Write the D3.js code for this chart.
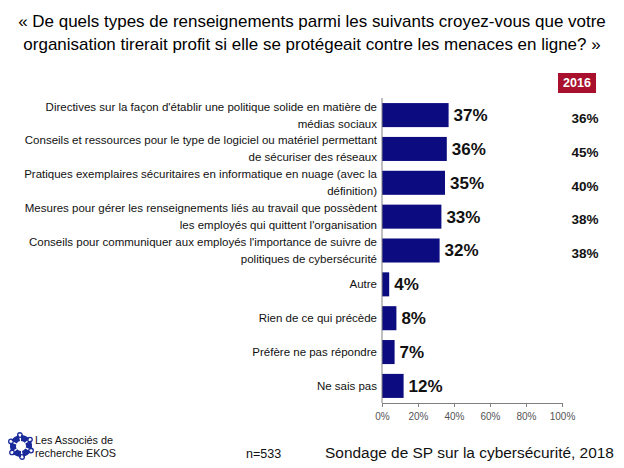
<!DOCTYPE html>
<html><head><meta charset="utf-8">
<script src="https://cdn.jsdelivr.net/npm/d3@7"></script>
<style>body{margin:0;background:#fff}svg{display:block}text{font-family:"Liberation Sans",Arial,sans-serif}</style>
</head><body>
<script>
const titleLines = ["« De quels types de renseignements parmi les suivants croyez-vous que votre",
  "organisation tirerait profit si elle se protégeait contre les menaces en ligne? »"];
const categories = [
  ["Directives sur la façon d'établir une politique solide en matière de","médias sociaux"],
  ["Conseils et ressources pour le type de logiciel ou matériel permettant","de sécuriser des réseaux"],
  ["Pratiques exemplaires sécuritaires en informatique en nuage (avec la","définition)"],
  ["Mesures pour gérer les renseignements liés au travail que possèdent","les employés qui quittent l'organisation"],
  ["Conseils pour communiquer aux employés l'importance de suivre de","politiques de cybersécurité"],
  ["Autre"],
  ["Rien de ce qui précède"],
  ["Préfère ne pas répondre"],
  ["Ne sais pas"]
];
const values2018 = [37, 36, 35, 33, 32, 4, 8, 7, 12];
const values2016 = [36, 45, 40, 38, 38, null, null, null, null];
const ticks = [0, 20, 40, 60, 80, 100];
const compareLabel = "2016";
const sampleText = "n=533";
const sourceText = "Sondage de SP sur la cybersécurité, 2018";
const logoLines = ["Les Associés de", "recherche EKOS"];

const W = 624, H = 468;
const svg = d3.select("body").append("svg").attr("width", W).attr("height", H);

// fit a text's font size so its natural width equals target width
function fitFont(sel, target, maxSize) {
  sel.attr("font-size", 10);
  const w = sel.node().getComputedTextLength();
  sel.attr("font-size", Math.min(maxSize, 10 * target / w));
}

const t1 = svg.append("text").attr("x", 312).attr("y", 27).attr("text-anchor", "middle").attr("fill", "#000").text(titleLines[0]);
fitFont(t1, 588, 20);
const t2 = svg.append("text").attr("x", 312).attr("y", 50).attr("text-anchor", "middle").attr("fill", "#000")
  .attr("font-size", t1.attr("font-size")).text(titleLines[1]);

const x = d3.scaleLinear().domain([0, 100]).range([382, 562]);
const y = d3.scaleBand().domain(d3.range(categories.length)).range([98, 403]).paddingInner(0.29).paddingOuter(0.15);

// bars
svg.selectAll("rect.bar").data(values2018).join("rect")
  .attr("x", x(0)).attr("y", (d, i) => y(i)).attr("width", d => x(d) - x(0)).attr("height", y.bandwidth())
  .attr("fill", "#0c0c80");

// axes
const yAxisG = svg.append("g").attr("transform", `translate(${x(0)},0)`)
  .call(d3.axisLeft(y).tickSize(0).tickFormat(""));
yAxisG.select(".domain").attr("stroke", "#808080").attr("d", "M0,98V403");

const xAxisG = svg.append("g").attr("transform", "translate(0,403)")
  .call(d3.axisBottom(x).tickValues(ticks).tickSize(4).tickSizeOuter(0).tickFormat(d => d + "%"));
xAxisG.select(".domain").attr("stroke", "#808080");
xAxisG.selectAll(".tick line").attr("stroke", "#808080");
xAxisG.selectAll(".tick text").attr("font-size", 10).attr("fill", "#555").attr("dy", "0.95em")
  .attr("font-family", "Liberation Sans, Arial, sans-serif");

// category labels
const lab = svg.selectAll("g.cat").data(categories).join("g")
  .attr("transform", (d, i) => `translate(377,${y(i) + y.bandwidth() / 2})`);
lab.each(function(lines) {
  const g = d3.select(this);
  const n = lines.length;
  lines.forEach((t, j) => {
    g.append("text").attr("x", 0).attr("y", (j - (n - 1) / 2) * 17).attr("dy", "0.35em")
      .attr("text-anchor", "end").attr("font-size", 11.5).attr("fill", "#111").text(t);
  });
});

// value labels
svg.selectAll("text.val").data(values2018).join("text")
  .attr("x", d => x(d) + 5).attr("y", (d, i) => y(i) + y.bandwidth() / 2).attr("dy", "0.35em")
  .attr("font-size", 17).attr("font-weight", "bold").attr("fill", "#111").text(d => d + "%");

// 2016 column
svg.append("rect").attr("x", 558).attr("y", 73).attr("width", 38).attr("height", 20).attr("fill", "#a8102d");
svg.append("text").attr("x", 577).attr("y", 83).attr("dy", "0.35em").attr("text-anchor", "middle")
  .attr("font-size", 12.5).attr("font-weight", "bold").attr("fill", "#fff").text(compareLabel);
svg.selectAll("text.v16").data(values2016.map((v, i) => ({v, i})).filter(d => d.v !== null)).join("text")
  .attr("x", 585).attr("y", d => y(d.i) + y.bandwidth() / 2 + 3).attr("dy", "0.35em").attr("text-anchor", "middle")
  .attr("font-size", 13.5).attr("font-weight", "bold").attr("fill", "#111").text(d => d.v + "%");

// footer
const logo = svg.append("g").attr("transform", "translate(21,446)");
d3.range(6).forEach(k => {
  const a = k * Math.PI / 3;
  logo.append("path")
    .attr("d", d3.arc()({innerRadius: 5, outerRadius: 11, startAngle: a, endAngle: a + 0.85}))
    .attr("fill", "#1a2a9a");
  logo.append("circle").attr("cx", 11 * Math.sin(a + 0.95)).attr("cy", -11 * Math.cos(a + 0.95)).attr("r", 2.3)
    .attr("fill", "none").attr("stroke", "#1a2a9a").attr("stroke-width", 1.3);
});
svg.selectAll("text.logo").data(logoLines).join("text")
  .attr("x", 35).attr("y", (d, i) => 444 + i * 13).attr("font-size", 10.8).attr("fill", "#111").text(d => d);
svg.append("text").attr("x", 246).attr("y", 458).attr("font-size", 12.5).attr("fill", "#111").text(sampleText);
const src = svg.append("text").attr("x", 325).attr("y", 458).attr("fill", "#111").text(sourceText);
fitFont(src, 289, 16);
</script>
</body></html>
